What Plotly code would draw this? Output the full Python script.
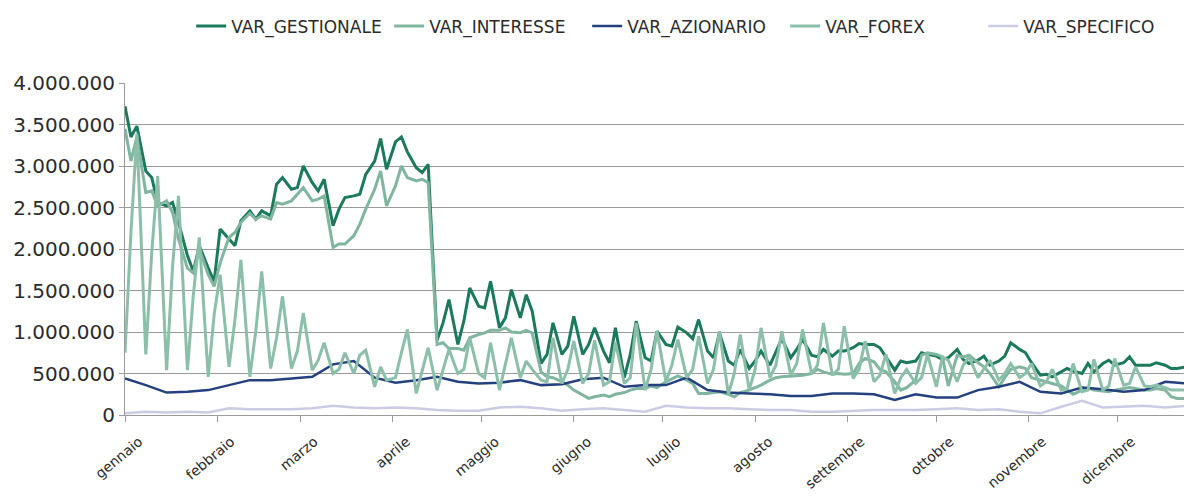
"""VaR giornaliero per fattore di rischio - grafico a linee."""

import pandas as pd
import plotly.graph_objects as go

# date: lunedi/mercoledi/venerdi per le serie oscillanti, lunedi per quelle lisce
days = pd.date_range("2007-01-01", "2007-12-26", freq="D")
dates_mwf = [d for d in days if d.weekday() in (0, 2, 4)]
dates_weekly = [d for d in days if d.weekday() == 0]

month_ticks = pd.date_range("2007-01-01", "2007-12-01", freq="MS")
month_names = ["gennaio", "febbraio", "marzo", "aprile", "maggio", "giugno",
               "luglio", "agosto", "settembre", "ottobre", "novembre", "dicembre"]

# valori in milioni di euro (lun, mer, ven per settimana)
var_gestionale = [
    3.72, 3.35, 3.48,  2.94, 2.86, 2.56,  2.52, 2.56, 2.32,  1.92, 1.73, 2.04,
    1.77, 1.61, 2.24,  2.12, 2.04, 2.34,  2.46, 2.36, 2.46,  2.40, 2.78, 2.86,
    2.72, 2.74, 3.00,  2.80, 2.70, 2.84,  2.28, 2.48, 2.62,  2.64, 2.66, 2.90,
    3.06, 3.33, 2.96,  3.29, 3.35, 3.17,  2.98, 2.92, 3.02,  0.90, 1.11, 1.39,
    0.85, 1.13, 1.53,  1.31, 1.29, 1.61,  1.05, 1.17, 1.51,  1.17, 1.45, 1.25,
    0.62, 0.73, 1.11,  0.73, 0.83, 1.19,  0.73, 0.85, 1.05,  0.77, 0.63, 1.05,
    0.45, 0.73, 1.13,  0.69, 0.65, 1.01,  0.85, 0.83, 1.06,  0.99, 0.92, 1.15,
    0.77, 0.69, 0.99,  0.65, 0.60, 0.79,  0.56, 0.65, 0.77,  0.60, 0.77, 0.92,
    0.69, 0.79, 0.91,  0.72, 0.70, 0.79,  0.71, 0.77, 0.77,  0.81, 0.86, 0.85,
    0.85, 0.81, 0.70,  0.54, 0.65, 0.63,  0.65, 0.75, 0.73,  0.71, 0.67, 0.69,
    0.79, 0.67, 0.62,  0.66, 0.71, 0.60,  0.65, 0.71, 0.87,  0.79, 0.75, 0.63,
    0.48, 0.49, 0.46,  0.52, 0.56, 0.53,  0.50, 0.62, 0.52,  0.62, 0.66, 0.60,
    0.63, 0.70, 0.60,  0.60, 0.60, 0.63,  0.60, 0.56, 0.56,  0.58, 0.58,
]
var_interesse = [
    3.45, 3.06, 3.35,  2.68, 2.70, 2.52,  2.58, 2.44, 2.12,  1.77, 1.71, 2.00,
    1.69, 1.55, 1.83,  2.14, 2.20, 2.32,  2.43, 2.36, 2.40,  2.36, 2.56, 2.54,
    2.58, 2.66, 2.74,  2.58, 2.60, 2.64,  2.02, 2.06, 2.06,  2.16, 2.30, 2.48,
    2.72, 2.94, 2.52,  2.76, 3.00, 2.86,  2.82, 2.84, 2.80,  0.85, 0.87, 0.80,
    0.80, 0.78, 0.93,  0.97, 0.99, 1.02,  1.02, 1.05, 1.00,  0.99, 1.02, 0.99,
    0.52, 0.46, 0.45,  0.40, 0.36, 0.30,  0.24, 0.20, 0.22,  0.24, 0.22, 0.25,
    0.27, 0.30, 0.32,  0.32, 0.35, 0.33,  0.40, 0.44, 0.47,  0.42, 0.38, 0.26,
    0.26, 0.27, 0.28,  0.25, 0.22, 0.27,  0.30, 0.33, 0.36,  0.42, 0.45, 0.46,
    0.47, 0.47, 0.48,  0.50, 0.55, 0.52,  0.49, 0.50, 0.49,  0.50, 0.62, 0.68,
    0.64, 0.55, 0.52,  0.40, 0.30, 0.33,  0.42, 0.72, 0.75,  0.73, 0.70, 0.35,
    0.72, 0.70, 0.72,  0.63, 0.58, 0.50,  0.34, 0.45, 0.55,  0.58, 0.56, 0.45,
    0.42, 0.40, 0.38,  0.35, 0.30, 0.25,  0.30, 0.33, 0.30,  0.29, 0.28, 0.30,
    0.32, 0.33, 0.32,  0.30, 0.30, 0.32,  0.30, 0.22, 0.20,  0.20, 0.20,
]
var_forex = [
    0.75, 2.20, 3.39,  0.73, 1.96, 2.88,  0.54, 1.79, 2.64,  0.54, 1.45, 2.14,
    0.46, 1.21, 1.69,  0.58, 1.15, 1.87,  0.46, 1.01, 1.73,  0.56, 0.93, 1.43,
    0.56, 0.77, 1.23,  0.54, 0.66, 0.87,  0.50, 0.55, 0.75,  0.50, 0.72, 0.78,
    0.34, 0.58, 0.42,  0.45, 0.75, 1.03,  0.26, 0.55, 0.81,  0.30, 0.55, 0.79,
    0.50, 0.55, 0.93,  0.50, 0.45, 0.87,  0.30, 0.60, 0.93,  0.45, 0.65, 0.55,
    0.42, 0.40, 0.93,  0.38, 0.55, 0.89,  0.38, 0.50, 0.90,  0.36, 0.40, 0.88,
    0.38, 0.45, 1.11,  0.30, 0.55, 1.01,  0.40, 0.60, 0.91,  0.45, 0.55, 0.95,
    0.38, 0.55, 1.01,  0.25, 0.50, 0.97,  0.30, 0.55, 1.05,  0.45, 0.60, 1.01,
    0.48, 0.62, 1.03,  0.50, 0.60, 1.11,  0.48, 0.55, 1.07,  0.44, 0.55, 0.89,
    0.40, 0.48, 0.73,  0.26, 0.45, 0.55,  0.38, 0.45, 0.73,  0.34, 0.70, 0.66,
    0.40, 0.60, 0.70,  0.45, 0.55, 0.66,  0.42, 0.50, 0.62,  0.45, 0.50, 0.62,
    0.35, 0.40, 0.55,  0.30, 0.32, 0.62,  0.28, 0.30, 0.67,  0.30, 0.35, 0.68,
    0.36, 0.38, 0.58,  0.35, 0.34, 0.36,  0.33, 0.30, 0.30,  0.30, 0.30,
]
# valori settimanali (lunedi)
var_azionario = [
    0.44, 0.36, 0.27, 0.28, 0.30, 0.36, 0.42, 0.42, 0.44, 0.46,
    0.61, 0.65, 0.45, 0.39, 0.42, 0.46, 0.40, 0.38, 0.39, 0.42,
    0.36, 0.37, 0.43, 0.45, 0.34, 0.36, 0.36, 0.45, 0.30, 0.27,
    0.26, 0.25, 0.23, 0.23, 0.26, 0.26, 0.25, 0.18, 0.25, 0.21,
    0.21, 0.30, 0.34, 0.40, 0.28, 0.26, 0.33, 0.31, 0.28, 0.30,
    0.40, 0.38,
]
var_specifico = [
    0.02, 0.04, 0.03, 0.04, 0.03, 0.08, 0.07, 0.07, 0.07, 0.08,
    0.11, 0.09, 0.08, 0.09, 0.08, 0.06, 0.05, 0.05, 0.09, 0.10,
    0.08, 0.05, 0.07, 0.08, 0.06, 0.04, 0.11, 0.09, 0.08, 0.08,
    0.07, 0.06, 0.06, 0.04, 0.04, 0.05, 0.06, 0.06, 0.06, 0.07,
    0.08, 0.06, 0.07, 0.04, 0.02, 0.10, 0.17, 0.09, 0.10, 0.11,
    0.09, 0.11,
]

series = [
    ("VAR_GESTIONALE", dates_mwf, var_gestionale, "#1b7a5c", 3),
    ("VAR_INTERESSE", dates_mwf, var_interesse, "#80b5a0", 3),
    ("VAR_AZIONARIO", dates_weekly, var_azionario, "#25407e", 2.5),
    ("VAR_FOREX", dates_mwf, var_forex, "#8cbfa9", 3),
    ("VAR_SPECIFICO", dates_weekly, var_specifico, "#cbcbe5", 2.5),
]

GRID = "#9b9b9b"
TEXT = "#2b2b2b"
FONT = "'DejaVu Sans', sans-serif"

fig = go.Figure()
for name, xs, vals, color, width in series:
    fig.add_trace(go.Scatter(
        x=xs,
        y=[v * 1_000_000 for v in vals],
        name=name,
        mode="lines",
        line=dict(color=color, width=width),
    ))

# la pagina ha 8px di margine sul body: figura leggermente piu piccola
fig.update_layout(
    width=1184,
    height=489,
    margin=dict(l=117, r=0, t=71, b=82),
    paper_bgcolor="white",
    plot_bgcolor="white",
    separators=",.",
    font=dict(family=FONT, color=TEXT),
    showlegend=True,
    legend=dict(
        orientation="h",
        x=0.062,
        y=1.17,
        xanchor="left",
        yanchor="middle",
        font=dict(size=17, color=TEXT),
        entrywidthmode="pixels",
        entrywidth=153,
        bgcolor="rgba(0,0,0,0)",
    ),
)
fig.update_yaxes(
    range=[0, 4_000_000],
    dtick=500_000,
    tickformat=",.0f",
    automargin=False,
    showgrid=True,
    gridcolor=GRID,
    gridwidth=1,
    zeroline=False,
    showline=True,
    linecolor=GRID,
    ticks="outside",
    ticklen=5,
    tickcolor=GRID,
    tickfont=dict(size=20, color=TEXT),
)
fig.update_xaxes(
    range=["2007-01-01", "2007-12-26"],
    tickvals=list(month_ticks),
    ticktext=month_names,
    tickangle=-40,
    automargin=False,
    ticklabelstandoff=6,
    ticklabelshift=14,
    showgrid=False,
    zeroline=False,
    showline=True,
    linecolor=GRID,
    ticks="outside",
    ticklen=6,
    tickcolor=GRID,
    tickfont=dict(size=14, color=TEXT),
)

fig.write_html("out.html")
